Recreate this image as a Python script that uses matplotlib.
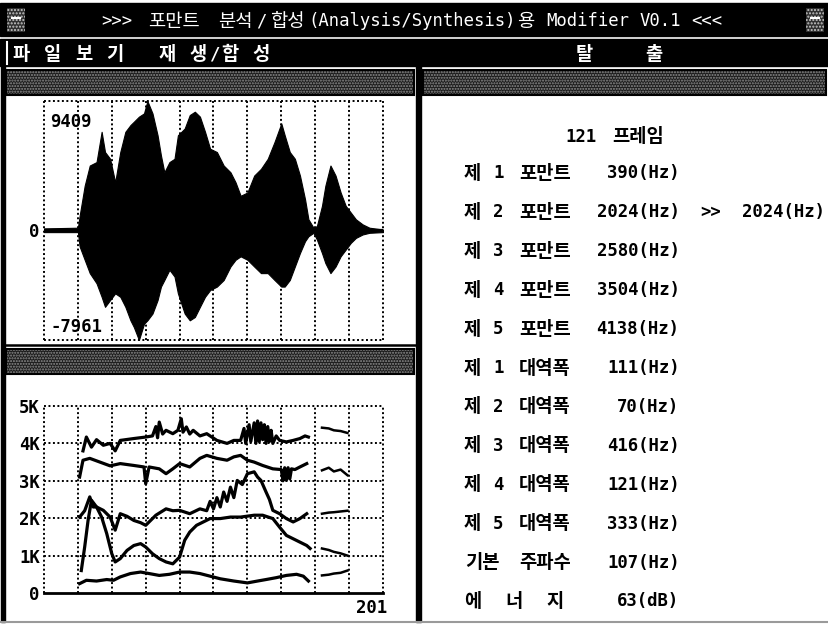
import matplotlib
matplotlib.use('Agg')
import matplotlib.pyplot as plt
from matplotlib.patches import Rectangle

plt.rcParams['font.family'] = ['DejaVu Sans Mono', 'Noto Sans CJK KR']
plt.rcParams['hatch.linewidth'] = 1.0

W, H = 829, 625          # screen size in pixels
CW = 10.36               # width of one text cell (80 columns)
MONO_PT = 12.4
KR_PT = 13.5

title = '>>> 포만트 분석/합성(Analysis/Synthesis)용 Modifier V0.1 <<<'
menu_items = ['파 일 보 기', '재 생/합 성', '탈', '출']
menu_x = [11, 157, 574, 644]

# parameters of the current frame
frame_no = 121
formants_hz = [390, 2024, 2580, 3504, 4138]
bandwidths_hz = [111, 70, 416, 121, 333]
pitch_hz = 107
energy_db = 63
edit_formant = 2
edit_value_hz = 2024

# speech waveform envelope (sample amplitude vs frame)
wave_max, wave_min = 9409, -7961
n_frames = 201
wave_frames = [0, 20, 21, 24, 27, 31, 34, 36, 39, 42,
               45, 48, 51, 53, 56, 59, 61, 64, 67, 69,
               71, 74, 77, 79, 83, 86, 89, 92, 95, 98,
               102, 106, 110, 113, 116, 120, 124, 128, 132, 136,
               140, 142, 145, 148, 151, 154, 156, 159, 161, 164,
               166, 169, 172, 175, 178, 181, 184, 188, 192, 200]
wave_upper = [150, 200, 1050, 3250, 4720, 4970, 7170, 5700, 5210, 3500,
              5700, 7170, 7660, 7900, 8270, 8510, 9409, 8510, 6920, 5450,
              4230, 4970, 5210, 6920, 7410, 8390, 8630, 8270, 7170, 5940,
              5700, 4720, 4230, 3500, 2520, 2760, 3990, 4480, 5210, 6430,
              7780, 6920, 5700, 5210, 3990, 2270, 810, 200, 320, 1790,
              3250, 4720, 3990, 2760, 1790, 1300, 810, 440, 200, 70]
wave_lower = [-120, -120, -1150, -2130, -3100, -3840, -4820, -5550, -5060, -4570,
              -4820, -5550, -6530, -7020, -7961, -6780, -6530, -6040, -5060, -4080,
              -3600, -2860, -3350, -4570, -6040, -6530, -6290, -5550, -4820, -4330,
              -4080, -3600, -2620, -2130, -1880, -2130, -2620, -3100, -3100, -3600,
              -4080, -4080, -3600, -2620, -1640, -780, -420, -170, -660, -1640,
              -2370, -3100, -2620, -1880, -1390, -900, -540, -290, -170, -120]

# formant tracks (Hz vs frame): main voiced part
f1_frames = [21, 25, 31, 37, 41, 45, 51, 57, 62, 68, 74, 80, 86, 92, 98, 104, 112,
             120, 126, 131, 137, 143, 149, 153, 156]
f1_hz = [250, 340, 320, 360, 340, 430, 520, 560, 520, 470, 500, 560, 560, 520, 450,
         380, 320, 270, 320, 360, 410, 470, 500, 450, 320]
f2_frames = [22, 24, 26, 28, 31, 34, 37, 40, 42, 45, 49, 53, 57, 60, 64, 68, 72, 76,
             80, 83, 86, 90, 94, 98, 104, 110, 116, 124, 129, 135, 139, 143, 147,
             151, 155, 157]
f2_hz = [600, 1230, 1940, 2480, 2300, 2030, 1590, 1050, 830, 920, 1140, 1270, 1320,
         1230, 1050, 920, 830, 780, 960, 1410, 1630, 1810, 1900, 1990, 1990, 2030,
         2030, 2080, 2080, 1990, 1760, 1540, 1450, 1360, 1270, 1190]
f3_frames = [21, 24, 27, 29, 31, 35, 39, 42, 45, 49, 53, 57, 60, 66, 72, 76, 80, 86,
             92, 96, 98, 100, 102, 104, 106, 108, 110, 112, 114, 117, 120, 124, 126,
             128, 131, 133, 135, 139, 143, 147, 151, 155]
f3_hz = [2030, 2200, 2570, 2300, 2300, 2210, 2030, 1680, 2120, 2050, 1940, 1880,
         1810, 2080, 2250, 2200, 2210, 2120, 2250, 2200, 2450, 2250, 2550, 2300,
         2700, 2450, 2830, 2550, 3010, 2900, 3190, 3240, 3100, 3010, 2700, 2500,
         2210, 2120, 1990, 1900, 1990, 2120]
f4_frames = [21, 23, 27, 33, 39, 45, 53, 59, 60, 62, 68, 72, 76, 80, 86, 92, 96, 102,
             108, 112, 116, 120, 124, 129, 135, 140, 141, 142, 143, 144, 145, 146,
             148, 151, 155]
f4_hz = [3100, 3550, 3600, 3500, 3400, 3460, 3410, 3370, 2920, 3370, 3320, 3190,
         3320, 3460, 3370, 3600, 3680, 3600, 3550, 3640, 3680, 3550, 3500, 3410,
         3320, 3300, 3000, 3350, 3020, 3350, 3050, 3320, 3300, 3370, 3460]
f5_frames = [23, 25, 28, 31, 35, 39, 42, 45, 53, 60, 64, 66, 67, 68, 70, 72, 76, 79,
             81, 82, 84, 86, 88, 92, 96, 102, 108, 112, 116, 118, 119, 121, 122, 124,
             125, 126, 127, 128, 129, 130, 131, 132, 133, 134, 135, 137, 139, 143,
             147, 151, 154, 156]
f5_hz = [3800, 4170, 3900, 4100, 3950, 4000, 3800, 4080, 4130, 4170, 4200, 4450,
         4150, 4570, 4250, 4350, 4260, 4350, 4660, 4300, 4440, 4250, 4350, 4200,
         4260, 4080, 4000, 4080, 4080, 4400, 4000, 4500, 4050, 4550, 4000, 4600,
         4050, 4550, 4100, 4500, 4000, 4450, 4050, 4350, 4000, 4200, 4080, 4040,
         4080, 4130, 4200, 4170]
# short voiced tail at the end of the utterance
tail_frames = [164, 168, 171, 175, 179]
f1_tail = [470, 490, 520, 540, 600]
f2_tail = [1190, 1150, 1100, 1060, 1000]
f3_tail = [2120, 2150, 2160, 2180, 2200]
f4_tail = [3280, 3350, 3250, 3300, 3150]
f5_tail = [4420, 4400, 4350, 4330, 4280]

DOT = (0, (1, 1.3))


def is_wide(ch):
    return ord(ch) >= 0x1100


def text_runs(s):
    # split a screen line into runs of wide (hangul) / narrow chars with their column
    runs, cur, cur_col, cur_wide, col = [], '', 0, None, 0
    for ch in s:
        wide = is_wide(ch)
        if ch == ' ' or (cur and wide != cur_wide):
            if cur:
                runs.append((cur_col, cur, cur_wide))
            cur = ''
        if ch != ' ':
            if not cur:
                cur_col, cur_wide = col, wide
            cur += ch
        col += 2 if wide else 1
    if cur:
        runs.append((cur_col, cur, cur_wide))
    return runs


def screen_text(ax, x0, yc, s, color='black', weight='bold'):
    for col, run, wide in text_runs(s):
        span = len(run) * (2 if wide else 1)
        xc = x0 + (col + span / 2) * CW
        if wide:
            ax.text(xc, yc + 7, run, ha='center', va='baseline', color=color,
                    family='Noto Sans CJK KR', weight=weight, fontsize=KR_PT)
        else:
            ax.text(xc, yc + 6.5, run, ha='center', va='baseline', color=color,
                    family='DejaVu Sans Mono', weight=weight, fontsize=MONO_PT)


def header_bar(ax, x0, y0, x1, y1):
    ax.add_patch(Rectangle((x0, y0), x1 - x0, y1 - y0, facecolor='#1c1c1c',
                           edgecolor='#8e8e8e', hatch='......', lw=0))
    ax.add_patch(Rectangle((x0, y0), x1 - x0, y1 - y0, fill=False,
                           edgecolor='black', lw=1.5))


def px_axes(fig, x0, y0, x1, y1):
    ax = fig.add_axes([x0 / W, 1 - y1 / H, (x1 - x0) / W, (y1 - y0) / H])
    ax.patch.set_visible(False)
    for s in ax.spines.values():
        s.set_visible(False)
    return ax


fig = plt.figure(figsize=(W / 100, H / 100), dpi=100)
scr = fig.add_axes([0, 0, 1, 1])
scr.set_xlim(0, W)
scr.set_ylim(H, 0)
scr.axis('off')

# title bar and menu bar
scr.add_patch(Rectangle((0, 3), W, 33, color='black'))
scr.add_patch(Rectangle((0, 39), W, 27, color='black'))
for ix in (7, 806):
    scr.add_patch(Rectangle((ix, 8), 18, 24, facecolor='#303030', edgecolor='#c8c8c8',
                            hatch='.....', lw=0))
    scr.plot([ix + 5, ix + 13], [18, 18], color='white', lw=1.5)
screen_text(scr, 101, 20, title, color='white', weight='normal')
scr.plot([7, 7], [42, 64], color='white', lw=1.5)
for x, item in zip(menu_x, menu_items):
    screen_text(scr, x, 53, item, color='white')

# window frame
scr.add_patch(Rectangle((1, 66), 4, 556, color='black'))
scr.add_patch(Rectangle((416, 66), 5, 556, color='black'))
scr.plot([5, 416], [345, 345], color='black', lw=1.8)
scr.plot([0, W], [622, 622], color='#9a9a9a', lw=1.5)
header_bar(scr, 6, 70, 414, 95)
header_bar(scr, 423, 70, 826, 95)
header_bar(scr, 6, 349, 414, 374)

# parameter panel
lines = [f'{frame_no:>13d} 프레임']
for i, v in enumerate(formants_hz, 1):
    s = f'제 {i} 포만트  {v:>4d}(Hz)'
    if i == edit_formant:
        s += f'  >>  {edit_value_hz:>4d}(Hz)'
    lines.append(s)
for i, v in enumerate(bandwidths_hz, 1):
    lines.append(f'제 {i} 대역폭  {v:>4d}(Hz)')
lines.append(f'기본 주파수  {pitch_hz:>4d}(Hz)')
lines.append(f'에  너  지   {energy_db:>4d}(dB)')
row_y = [135] + [172 + 38.9 * i for i in range(12)]
for y, s in zip(row_y, lines):
    screen_text(scr, 462, y, s)

tick_font = dict(family='DejaVu Sans Mono', weight='bold', size=MONO_PT)

# waveform view
ax_w = px_axes(fig, 44, 101, 383, 340)
ax_w.set_xlim(0, n_frames - 1)
ax_w.set_ylim(wave_min, wave_max)
ax_w.vlines(range(0, n_frames, 20), wave_min, wave_max, colors='black',
            linestyles=[DOT], lw=1.4, clip_on=False, zorder=1)
ax_w.hlines([wave_min, wave_max], 0, n_frames - 1, colors='black',
            linestyles=[DOT], lw=1.4, clip_on=False, zorder=1)
ax_w.fill_between(wave_frames, wave_lower, wave_upper, facecolor='black',
                  edgecolor='black', lw=0.8, zorder=2)
ax_w.axhline(0, color='black', lw=1.6, zorder=2)
ax_w.set_xticks([])
ax_w.set_yticks([0], ['0'])
ax_w.tick_params(length=0, pad=3)
for t in ax_w.get_yticklabels():
    t.set(**tick_font)
ax_w.annotate(f'{wave_max}', xy=(0, wave_max), xytext=(6, -21),
              textcoords='offset pixels', ha='left', va='center', **tick_font)
ax_w.annotate(f'{wave_min}', xy=(0, wave_min), xytext=(7, 13),
              textcoords='offset pixels', ha='left', va='center', **tick_font)

# formant track view
ax_f = px_axes(fig, 44, 406, 383, 593)
ax_f.set_xlim(0, n_frames - 1)
ax_f.set_ylim(0, 5000)
ax_f.vlines(range(0, n_frames, 20), 0, 5000, colors='black',
            linestyles=[DOT], lw=1.4, clip_on=False, zorder=1)
ax_f.hlines(range(1000, 5001, 1000), 0, n_frames - 1, colors='black',
            linestyles=[DOT], lw=1.4, clip_on=False, zorder=1)
ax_f.axhline(0, color='black', lw=2.0, zorder=2, clip_on=False)
tracks = [(f1_frames, f1_hz, f1_tail), (f2_frames, f2_hz, f2_tail),
          (f3_frames, f3_hz, f3_tail), (f4_frames, f4_hz, f4_tail),
          (f5_frames, f5_hz, f5_tail)]
for fr, hz, tail in tracks:
    ax_f.plot(fr, hz, color='black', lw=2.3, zorder=3)
    ax_f.plot(tail_frames, tail, color='black', lw=1.8, zorder=3)
ax_f.set_xticks([])
ax_f.set_yticks(range(0, 5001, 1000), ['0', '1K', '2K', '3K', '4K', '5K'])
ax_f.tick_params(length=0, pad=3)
for t in ax_f.get_yticklabels():
    t.set(**tick_font)
ax_f.annotate(f'{n_frames}', xy=(n_frames - 1, 0), xytext=(4, -15),
              textcoords='offset pixels', ha='right', va='center', **tick_font)

fig.savefig('out.png', dpi=100)
